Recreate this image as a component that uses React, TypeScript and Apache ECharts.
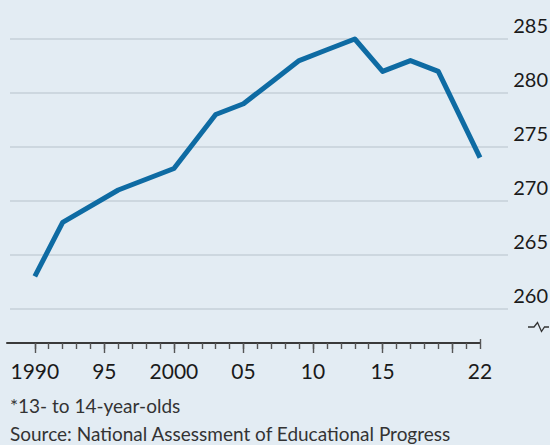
import React, { useEffect, useRef } from "react";
import * as echarts from "echarts";

const years = [1990, 1992, 1996, 2000, 2003, 2005, 2007, 2009, 2011, 2013, 2015, 2017, 2019, 2022];
const scores = [263, 268, 271, 273, 278, 279, 281, 283, 284, 285, 282, 283, 282, 274];
const minorTickYears = Array.from({ length: 33 }, (_, i) => 1990 + i);
const majorTickYears = [1990, 1995, 2000, 2005, 2010, 2015, 2020];
const labelYears = [1990, 1995, 2000, 2005, 2010, 2015, 2022];
const footnote = "*13- to 14-year-olds";
const source = "Source: National Assessment of Educational Progress";

const BG = "#e3ecf3";
const LINE = "#0e6ba3";
const FONT = "Lato";

export default function App() {
  const ref = useRef<HTMLDivElement>(null);
  useEffect(() => {
    if (!ref.current) return;
    const chart = echarts.init(ref.current, undefined, { renderer: "svg" });
    const pxPerUnit = 269.7 / 25;
    const seriesMin = 285 - 304 / pxPerUnit;
    chart.setOption({
      animation: false,
      backgroundColor: BG,
      grid: [
        { left: 10, right: 42, top: 39, height: 270, containLabel: false, outerBoundsMode: "none" },
        { left: 7, right: 70, top: 39, height: 304, containLabel: false, outerBoundsMode: "none" },
      ],
      xAxis: [
        { gridIndex: 0, type: "value", min: 0, max: 1, show: false },
        {
          gridIndex: 1,
          type: "value",
          min: 1988,
          max: 2022,
          position: "bottom",
          splitLine: { show: false },
          axisLine: { show: true, onZero: false, lineStyle: { color: "#3a3a3a", width: 2 } },
          axisTick: { show: true, customValues: minorTickYears, length: 6, lineStyle: { color: "#555555", width: 1.4 } },
          axisLabel: {
            customValues: labelYears,
            formatter: (v: number) => (v === 1990 || v === 2000 ? String(v) : String(v).slice(2)),
            fontFamily: FONT,
            fontSize: 21,
            color: "#1a1a1a",
            margin: 17,
          },
        },
        {
          gridIndex: 1,
          type: "value",
          min: 1988,
          max: 2022,
          position: "bottom",
          splitLine: { show: false },
          axisLine: { show: false, onZero: false },
          axisTick: { show: true, customValues: majorTickYears, length: 10, lineStyle: { color: "#555555", width: 1.4 } },
          axisLabel: { show: false },
        },
        {
          gridIndex: 1,
          type: "value",
          min: 1988,
          max: 2022,
          position: "bottom",
          splitLine: { show: false },
          axisLine: { show: false, onZero: false },
          axisTick: { show: true, inside: true, customValues: [2022], length: 4, lineStyle: { color: "#555555", width: 1.4 } },
          axisLabel: { show: false },
        },
      ],
      yAxis: [
        {
          gridIndex: 0,
          type: "value",
          min: 260,
          max: 285,
          interval: 5,
          position: "right",
          axisLine: { show: false },
          axisTick: { show: false },
          splitLine: { show: true, lineStyle: { color: "#c6d0d8", width: 1.5 } },
          axisLabel: {
            fontFamily: FONT,
            fontSize: 20,
            color: "#1a1a1a",
            align: "right",
            verticalAlign: "bottom",
            lineHeight: 20,
            padding: [0, 0, 4, 0],
            margin: 40,
          },
        },
        {
          gridIndex: 1,
          type: "value",
          min: seriesMin,
          max: 285,
          show: false,
          splitLine: { show: false },
        },
      ],
      series: [
        {
          type: "line",
          xAxisIndex: 1,
          yAxisIndex: 1,
          data: years.map((y, i) => [y, scores[i]]),
          symbol: "none",
          clip: false,
          lineStyle: { color: LINE, width: 5, join: "round", cap: "butt" },
        },
      ],
      graphic: [
        {
          type: "polyline",
          shape: { points: [[528, 327], [534, 327], [537.5, 322.5], [541.5, 331.5], [544.5, 327], [549, 327]] },
          style: { stroke: "#333", lineWidth: 1.3, fill: "none" },
        },
        {
          type: "text",
          x: 10,
          y: 405,
          style: { text: footnote, font: `19px ${FONT}`, fill: "#333333", textVerticalAlign: "middle", verticalAlign: "middle" },
        },
        {
          type: "text",
          x: 10,
          y: 433,
          style: { text: source, font: `19px ${FONT}`, fill: "#333333", textVerticalAlign: "middle", verticalAlign: "middle" },
        },
      ],
    });
    return () => chart.dispose();
  }, []);
  return <div ref={ref} style={{ position: "absolute", left: 0, top: 0, width: 550, height: 445 }} />;
}
